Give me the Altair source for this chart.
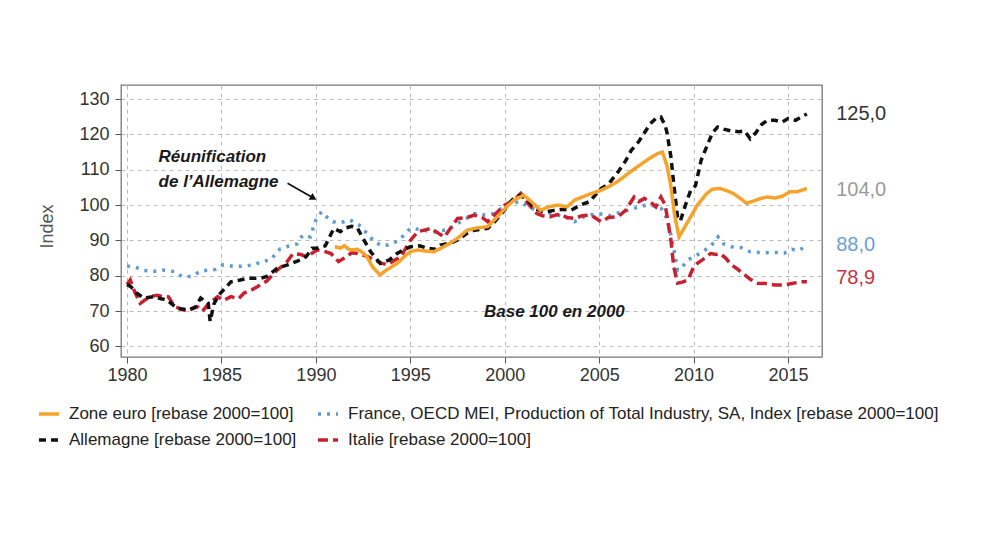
import altair as alt
import pandas as pd

# ---------------- data ----------------
SERIES = [
    "Zone euro [rebase 2000=100]",
    "Allemagne [rebase 2000=100]",
    "France, OECD MEI, Production of Total Industry, SA, Index [rebase 2000=100]",
    "Italie [rebase 2000=100]",
]
COLORS = ["#F6A32B", "#111111", "#5B9BD5", "#C8202F"]
DASHES = [[1, 0], [7, 5], [3, 6], [10, 5]]

ez_years = [1991.0, 1991.3, 1991.5, 1991.8, 1992.2, 1992.5, 1992.7, 1993.0, 1993.4, 1993.7,
            1994.0, 1994.3, 1994.7, 1995.0, 1995.4, 1995.8, 1996.25, 1996.7, 1997.1, 1997.6,
            1998.0, 1998.5, 1999.1, 1999.4, 1999.7, 2000.1, 2000.5, 2001.0, 2001.4, 2001.9,
            2002.3, 2002.8, 2003.3, 2003.7, 2004.2, 2004.6, 2005.1, 2005.6, 2006.0, 2006.3,
            2006.8, 2007.2, 2007.6, 2008.1, 2008.35, 2008.6, 2008.8, 2009.0, 2009.23, 2009.5,
            2009.85, 2010.2, 2010.7, 2011.0, 2011.4, 2011.8, 2012.1, 2012.5, 2012.8, 2013.2,
            2013.5, 2013.9, 2014.3, 2014.7, 2015.1, 2015.5, 2016.0]
ez_values = [88.2, 87.8, 88.5, 87.3, 87.5, 86.5, 85.4, 82.5, 80.2, 81.5,
             82.5, 83.5, 85.5, 86.8, 87.3, 87.0, 86.8, 88.0, 89.2, 91.0,
             92.9, 93.5, 93.9, 95.5, 97.2, 99.5, 101.5, 102.8, 101.0, 98.5,
             99.5, 100.0, 99.5, 101.4, 102.5, 103.3, 104.2, 105.5, 106.8, 108.0,
             110.0, 111.5, 113.0, 114.6, 115.0, 111.0, 105.2, 97.0, 91.0, 93.5,
             96.7, 100.0, 103.3, 104.5, 104.7, 104.0, 103.3, 101.8, 100.5, 101.2,
             101.8, 102.3, 102.0, 102.5, 103.8, 103.8, 104.7]

fr_years = [1980.0, 1980.5, 1980.9, 1981.4, 1981.9, 1982.5, 1982.9, 1983.4, 1983.9, 1984.3,
            1984.7, 1985.1, 1985.7, 1986.3, 1986.8, 1987.1, 1987.6, 1988.1, 1988.6, 1989.0,
            1989.3, 1989.7, 1990.0, 1990.3, 1990.6, 1990.9, 1991.3, 1991.8, 1992.3, 1992.7,
            1993.1, 1993.5, 1993.8, 1994.2, 1994.5, 1995.0, 1995.4, 1995.7, 1996.2, 1996.6,
            1996.95, 1997.5, 1997.9, 1998.4, 1998.9, 1999.4, 1999.8, 2000.3, 2000.8, 2001.3,
            2001.8, 2002.3, 2002.8, 2003.3, 2003.7, 2004.1, 2004.6, 2005.1, 2005.6, 2006.1,
            2006.5, 2007.0, 2007.5, 2007.9, 2008.3, 2008.6, 2008.8, 2009.0, 2009.15, 2009.4,
            2009.7, 2010.0, 2010.4, 2010.8, 2011.1, 2011.3, 2011.6, 2012.0, 2012.5, 2013.0,
            2013.5, 2014.0, 2014.4, 2014.8, 2015.2, 2015.6, 2016.0]
fr_values = [82.8, 82.3, 81.5, 81.2, 81.6, 81.2, 79.8, 79.8, 81.3, 81.6,
             81.8, 83.1, 82.6, 82.8, 83.2, 84.0, 84.5, 87.6, 88.5, 89.0,
             91.5, 91.0, 95.8, 98.1, 96.5, 95.3, 95.0, 95.8, 94.3, 92.0,
             89.6, 88.5, 88.7, 89.5, 90.6, 93.4, 93.2, 92.9, 92.3, 92.8,
             92.9, 94.8, 96.0, 97.6, 97.2, 97.6, 99.0, 100.5, 101.0, 99.5,
             98.2, 97.8, 97.2, 96.5, 95.3, 96.5, 97.3, 97.5, 97.0, 98.0,
             98.5, 99.3, 100.0, 99.8, 99.0, 96.0, 91.5, 86.3, 81.6, 82.5,
             84.5, 85.4, 86.5, 88.0, 89.5, 91.0, 89.0, 88.2, 88.0, 86.8,
             86.6, 86.5, 86.6, 86.4, 87.5, 87.2, 88.7]

de_years = [1980.0, 1980.2, 1980.5, 1980.9, 1981.4, 1981.8, 1982.1, 1982.65, 1983.2, 1983.6,
            1983.9, 1984.2, 1984.3, 1984.4, 1984.6, 1984.85, 1985.2, 1985.5, 1986.0, 1986.4,
            1987.1, 1987.4, 1987.95, 1988.5, 1989.2, 1989.5, 1989.8, 1990.07, 1990.5, 1990.95,
            1991.3, 1991.5, 1991.9, 1992.2, 1992.45, 1992.9, 1993.4, 1993.9, 1994.3, 1994.7,
            1995.0, 1995.5, 1995.9, 1996.3, 1996.6, 1997.1, 1997.5, 1998.0, 1998.4, 1999.1,
            1999.5, 1999.9, 2000.4, 2000.8, 2001.2, 2001.6, 2002.1, 2002.6, 2003.1, 2003.5,
            2004.0, 2004.5, 2005.1, 2005.5, 2006.0, 2006.4, 2006.7, 2007.1, 2007.4, 2007.7,
            2008.0, 2008.27, 2008.5, 2008.6, 2008.8, 2008.95, 2009.15, 2009.3, 2009.6, 2009.85,
            2010.1, 2010.4, 2010.8, 2011.0, 2011.27, 2011.6, 2012.0, 2012.4, 2012.7, 2013.0,
            2013.3, 2013.6, 2013.9, 2014.3, 2014.7, 2015.0, 2015.4, 2015.85, 2016.0]
de_values = [77.5, 76.9, 75.1, 73.7, 74.1, 73.5, 73.2, 70.8, 70.4, 71.0,
             73.7, 72.5, 72.2, 67.1, 72.0, 74.5, 76.5, 78.3, 78.8, 79.3,
             79.3, 79.8, 82.1, 83.1, 84.5, 85.5, 87.8, 87.8, 88.5, 93.4,
             92.5, 93.4, 94.0, 93.5, 91.0, 86.8, 83.5, 84.5, 86.3, 87.5,
             88.2, 88.5, 87.8, 87.5, 88.7, 89.2, 90.1, 92.0, 92.9, 93.4,
             95.5, 98.0, 101.5, 102.8, 101.5, 99.0, 98.0, 98.5, 98.8, 98.5,
             100.0, 101.0, 104.7, 106.0, 109.4, 112.5, 115.5, 118.0, 120.5, 123.0,
             124.5, 124.9, 122.5, 120.3, 113.6, 106.0, 96.7, 95.5, 100.5, 104.2,
             105.5, 112.7, 117.9, 120.5, 122.1, 121.5, 121.0, 120.8, 121.0, 118.8,
             120.5, 122.8, 124.0, 124.0, 123.5, 124.5, 124.0, 125.4, 125.8]

it_years = [1980.0, 1980.17, 1980.4, 1980.7, 1981.2, 1981.6, 1981.9, 1982.2, 1982.5, 1982.9,
            1983.2, 1983.7, 1984.0, 1984.3, 1984.8, 1985.1, 1985.5, 1985.9, 1986.2, 1986.6,
            1986.9, 1987.4, 1987.95, 1988.4, 1988.8, 1989.2, 1989.5, 1990.07, 1990.4, 1990.8,
            1991.2, 1991.5, 1991.9, 1992.2, 1992.7, 1993.1, 1993.5, 1993.8, 1994.2, 1994.5,
            1995.0, 1995.4, 1995.8, 1996.1, 1996.5, 1996.8, 1997.2, 1997.5, 1998.0, 1998.4,
            1998.8, 1999.1, 1999.5, 2000.0, 2000.5, 2000.85, 2001.3, 2001.7, 2002.0, 2002.4,
            2002.9, 2003.3, 2003.7, 2004.1, 2004.55, 2005.1, 2005.5, 2006.0, 2006.4, 2006.85,
            2007.1, 2007.4, 2007.8, 2008.0, 2008.27, 2008.5, 2008.6, 2008.8, 2008.95, 2009.15,
            2009.4, 2009.7, 2010.0, 2010.2, 2010.6, 2010.9, 2011.2, 2011.4, 2011.7, 2012.0,
            2012.3, 2012.6, 2013.0, 2013.4, 2013.8, 2014.3, 2014.8, 2015.2, 2015.7, 2016.0]
it_values = [77.5, 78.8, 75.5, 72.2, 74.1, 74.5, 74.1, 74.0, 71.3, 70.5,
             69.9, 71.3, 70.0, 72.0, 74.1, 73.0, 74.1, 73.5, 75.1, 76.0,
             76.9, 78.5, 81.6, 83.5, 86.3, 86.0, 85.4, 87.3, 87.0, 86.3,
             84.0, 85.0, 86.5, 86.3, 85.5, 84.5, 83.5, 83.1, 84.5, 85.4,
             90.0, 92.5, 93.0, 93.4, 92.0, 91.0, 94.0, 96.2, 96.5, 97.2,
             96.5, 95.3, 97.5, 100.0, 101.5, 103.3, 100.0, 97.6, 97.0, 96.7,
             97.5, 96.5, 96.2, 97.0, 97.2, 95.3, 96.5, 96.7, 98.5, 102.3,
             101.0, 101.9, 100.5, 99.5, 102.3, 100.0, 96.7, 90.1, 82.5, 77.9,
             78.2, 78.8, 82.5, 83.5, 85.0, 86.3, 86.0, 86.3, 85.0, 83.1,
             82.0, 80.7, 79.0, 77.9, 77.8, 77.4, 77.4, 77.8, 78.3, 78.3]

x_ticks = [1980, 1985, 1990, 1995, 2000, 2005, 2010, 2015]
y_ticks = [60, 70, 80, 90, 100, 110, 120, 130]

end_labels = ["125,0", "104,0", "88,0", "78,9"]
end_values = [125.7, 104.2, 88.7, 79.4]
end_colors = ["#333333", "#9A9A9A", "#6A9FD6", "#C4343F"]

note_texts = ["Réunification", "de l\u2019Allemagne", "Base 100 en 2000"]
note_years = [1981.67, 1981.67, 1998.9]
note_values = [112.1, 105.1, 68.4]

arrow_from = (1988.5, 106.2)
arrow_to = (1989.87, 102.0)

# ---------------- build tables ----------------
rows = []
for name, ys, vs in [(SERIES[0], ez_years, ez_values), (SERIES[2], fr_years, fr_values),
                     (SERIES[1], de_years, de_values), (SERIES[3], it_years, it_values)]:
    for yr, v in zip(ys, vs):
        rows.append({"series": name, "x": yr, "y": v})
df = pd.DataFrame(rows)

FONT = "Liberation Sans"
x_scale = alt.Scale(domain=[1979.68, 2016.8], nice=False, zero=False)
y_scale = alt.Scale(domain=[57, 134], nice=False, zero=False)

legend = alt.Legend(
    title=None, orient="none", legendX=-84, legendY=317, columns=2,
    symbolType="stroke", symbolSize=400, symbolStrokeWidth=3.5,
    labelFont=FONT, labelFontSize=17, labelColor="#222222", labelLimit=900,
    columnPadding=14, rowPadding=6, labelOffset=8,
)
color = alt.Color("series:N", scale=alt.Scale(domain=SERIES, range=COLORS), legend=legend)
dash = alt.StrokeDash("series:N", scale=alt.Scale(domain=SERIES, range=DASHES), legend=legend)

x_axis = alt.Axis(
    values=x_ticks, format="d", title=None, labelFont=FONT, labelFontSize=18,
    labelColor="#333333", tickColor="#555555", tickSize=6, labelPadding=3,
    grid=True, gridDash=[4, 4], gridColor="#BBBBBB", domain=False)
y_axis = alt.Axis(
    values=y_ticks, title="Index", labelFont=FONT, labelFontSize=18,
    labelColor="#333333", tickColor="#555555", tickSize=6, labelPadding=6,
    grid=True, gridDash=[4, 4], gridColor="#BBBBBB", domain=False, labelOverlap=False,
    titleFont=FONT, titleFontSize=18, titleFontWeight="normal", titleColor="#555555",
    titleX=-74, titleY=141, titleAngle=-90, titleAlign="center", titleBaseline="middle")

xs = alt.X("x:Q", scale=x_scale, axis=x_axis)
ys_ = alt.Y("y:Q", scale=y_scale, axis=y_axis)

base = alt.Chart(df).encode(x=xs, y=ys_, color=color, strokeDash=dash)
order = [SERIES[2], SERIES[3], SERIES[1], SERIES[0]]
line_layers = [
    base.transform_filter(alt.datum.series == s).mark_line(strokeWidth=3.5, strokeCap="butt")
    for s in order
]

end_df = pd.DataFrame({"label": end_labels, "y": end_values, "col": end_colors,
                       "x": [2017.55] * 4})
end_text = alt.Chart(end_df).mark_text(align="left", baseline="middle", font=FONT,
                                       fontSize=20).encode(
    x=xs, y=ys_, text="label:N", color=alt.Color("col:N", scale=None))

note_df = pd.DataFrame({"label": note_texts, "x": note_years, "y": note_values})
notes = alt.Chart(note_df).mark_text(align="left", baseline="alphabetic", font=FONT,
                                     fontSize=17, fontWeight="bold", fontStyle="italic",
                                     color="#1A1A1A").encode(x=xs, y=ys_, text="label:N")

arrow_df = pd.DataFrame({"x": [arrow_from[0]], "y": [arrow_from[1]],
                         "x2": [arrow_to[0]], "y2": [arrow_to[1]]})
arrow_line = alt.Chart(arrow_df).mark_rule(color="#111111", strokeWidth=1.8).encode(
    x=xs, y=ys_, x2="x2:Q", y2="y2:Q")
head_df = pd.DataFrame({"x": [arrow_to[0]], "y": [arrow_to[1]]})
arrow_head = alt.Chart(head_df).mark_point(shape="triangle-right", angle=30, size=60,
                                           filled=True, color="#111111", opacity=1).encode(
    x=xs, y=ys_)

chart = alt.layer(*line_layers, end_text, notes, arrow_line, arrow_head).properties(
    width=701, height=272,
    autosize=alt.AutoSizeParams(type="none"),
    padding={"left": 113, "top": 77, "right": 162, "bottom": 190},
    background="white",
).configure_view(stroke="#777777", strokeWidth=1.3)

chart.save("out.html", embed_options={"renderer": "svg", "actions": False})
